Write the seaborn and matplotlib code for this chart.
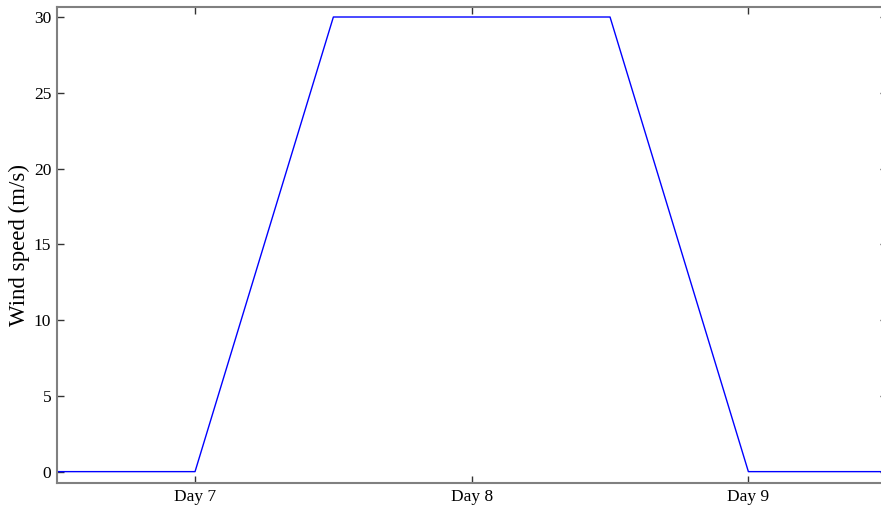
import matplotlib
matplotlib.use("Agg")
import matplotlib.pyplot as plt
import seaborn as sns
import pandas as pd

days = [6.5, 7.0, 7.5, 8.5, 9.0, 9.5]
wind_speed = [0, 0, 30, 30, 0, 0]
tick_pos = [7, 8, 9]
tick_labels = ["Day 7", "Day 8", "Day 9"]
y_ticks = [0, 5, 10, 15, 20, 25, 30]

sns.set_theme(style="white")
plt.rcParams['font.family'] = ['Liberation Serif', 'DejaVu Serif']

df = pd.DataFrame({"day": days, "wind": wind_speed})

fig = plt.figure(figsize=(8.81, 5.11), dpi=100)
ax = fig.add_axes([56.7/881, 27.7/511, 830/881, 476.6/511])
sns.lineplot(data=df, x="day", y="wind", ax=ax, color="#0000ff", linewidth=1.0)

ax.set_xlim(6.5, 9.5)
ax.set_ylim(-0.77, 30.68)
ax.set_xticks(tick_pos)
ax.set_xticklabels(tick_labels)
ax.set_yticks(y_ticks)
ax.set_xlabel("")
ax.set_ylabel("Wind speed (m/s)", fontsize=16.5, labelpad=3, color="black")
ax.tick_params(axis="both", direction="in", length=5, width=1, color="#333333",
               labelsize=12.5, labelcolor="black",
               top=True, right=True, bottom=True, left=True, pad=4)
for s in ax.spines.values():
    s.set_color("#808080")
    s.set_linewidth(1.5)

fig.savefig("out.png", dpi=100)
